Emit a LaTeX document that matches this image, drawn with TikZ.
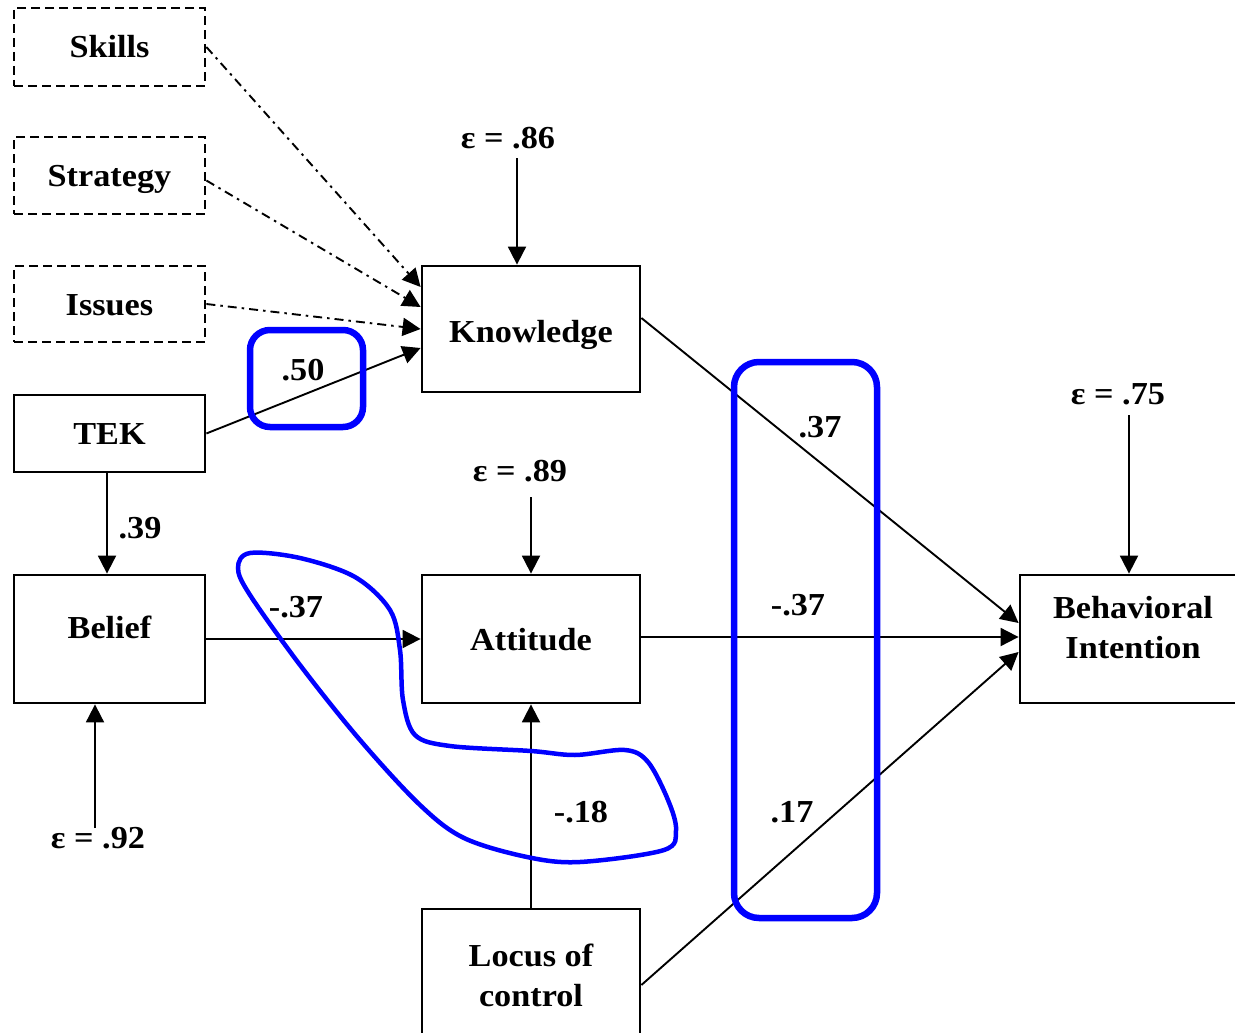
\documentclass[tikz,border=0pt]{standalone}
\usepackage{fontspec}
\setmainfont{Liberation Serif}[FakeStretch=1.07]
\usetikzlibrary{arrows.meta}
\begin{document}
\begin{tikzpicture}[x=1pt,y=-1pt,
 every node/.style={font=\fontsize{32}{40}\selectfont\bfseries},
 box/.style={draw, line width=2.8pt, inner sep=0pt, align=center},
 one/.style={text height=22pt, text depth=0pt},
 dbox/.style={box, one, dash pattern=on 9pt off 5pt},
 arr/.style={line width=1.9pt, -{Triangle[length=18pt,width=18pt]}},
 darr/.style={arr, dash pattern=on 9pt off 5pt on 2.5pt off 5pt},
 lbl/.style={inner sep=0pt},
 hl/.style={draw=blue, line width=6.5pt, rounded corners=20pt}
]
\fill[white] (0,0) rectangle (1235,1033);
\useasboundingbox (0,0) rectangle (1235,1033);
\clip (0,0) rectangle (1235,1033);

% boxes
\node[dbox, minimum width=191pt, minimum height=78pt] (skills) at (109.5,47) {Skills};
\node[dbox, minimum width=191pt, minimum height=77pt] (strat) at (109.5,175.5) {Strategy};
\node[dbox, minimum width=191pt, minimum height=76pt] (issues) at (109.5,304) {Issues};
\node[box, one, minimum width=191pt, minimum height=77pt] (tek) at (109.5,433.5) {TEK};
\node[box, minimum width=191pt, minimum height=128pt] (belief) at (109.5,639) {};
\node[lbl, one] (beliefT) at (109.5,627) {Belief};
\node[box, one, minimum width=218pt, minimum height=126pt] (know) at (531,329) {};
\node[lbl, one] (knowT) at (531,331) {Knowledge};
\node[box, one, minimum width=218pt, minimum height=128pt] (att) at (531,639) {Attitude};
\node[box, minimum width=218pt, minimum height=132pt] (loc) at (531,975) {Locus of\\control};
\node[box, minimum width=226pt, minimum height=128pt] (bi) at (1133,639) {};
\node[lbl, align=center] (biT) at (1133,628) {Behavioral\\Intention};

% error terms
\node[lbl] (e86) at (508,138) {ε = .86};
\node[lbl] (e89) at (520,471) {ε = .89};
\node[lbl] (e75) at (1118,394) {ε = .75};
\node[lbl] (e92) at (98,838) {ε = .92};
\coordinate (s86) at (517,158);
\coordinate (s89) at (531,497);
\coordinate (s75) at (1129,415);
\coordinate (s92) at (95,828);
\draw[arr] (s86) -- (s86 |- know.north);
\draw[arr] (s89) -- (att.north);
\draw[arr] (s75) -- (s75 |- bi.north);
\draw[arr] (s92) -- (s92 |- belief.south);

% connectors
\draw[darr] (skills.east) -- ([yshift=42pt]know.west);
\draw[darr] ([yshift=-5pt]strat.east) -- ([yshift=22pt]know.west);
\draw[darr] (issues.east) -- (know.west);
\draw[arr] (tek.east) -- ([yshift=-19pt]know.west);
\draw[arr] ([xshift=-2.5pt]tek.south) -- ([xshift=-2.5pt]belief.north);
\draw[arr] (belief.east) -- (att.west);
\draw[arr] (loc.north) -- (att.south);
\draw[arr] ([yshift=11pt]know.east) -- ([yshift=16pt]bi.west);
\draw[arr] ([yshift=2pt]att.east) -- ([yshift=2pt]bi.west);
\draw[arr] ([yshift=-10pt]loc.east) -- ([yshift=-13pt]bi.west);

% coefficients
\node[lbl] (l50) at (303,370) {.50};
\node[lbl] (l39) at (140,528) {.39};
\node[lbl] (l37a) at (296,607) {-.37};
\node[lbl] (l18) at (581,812) {-.18};
\node[lbl] (l37b) at (820,427) {.37};
\node[lbl] (l37c) at (798,605) {-.37};
\node[lbl] (l17) at (792,812) {.17};

% blue highlights
\draw[hl] (250,330) rectangle (363,427);
\draw[hl, rounded corners=25pt] (734,362) rectangle (877,918);
\draw[draw=blue, line width=4.5pt] plot[smooth cycle, tension=0.55] coordinates {
 (250,553) (300,558) (355,577) (390,610) (400,650) (403,700) (415,735) (450,746)
 (531,751) (575,755) (625,750) (648,762) (668,800) (676,830) (664,850) (580,862)
 (527,857) (464,838) (420,805) (360,740) (300,665) (250,595) (238,568)};
\end{tikzpicture}
\end{document}
